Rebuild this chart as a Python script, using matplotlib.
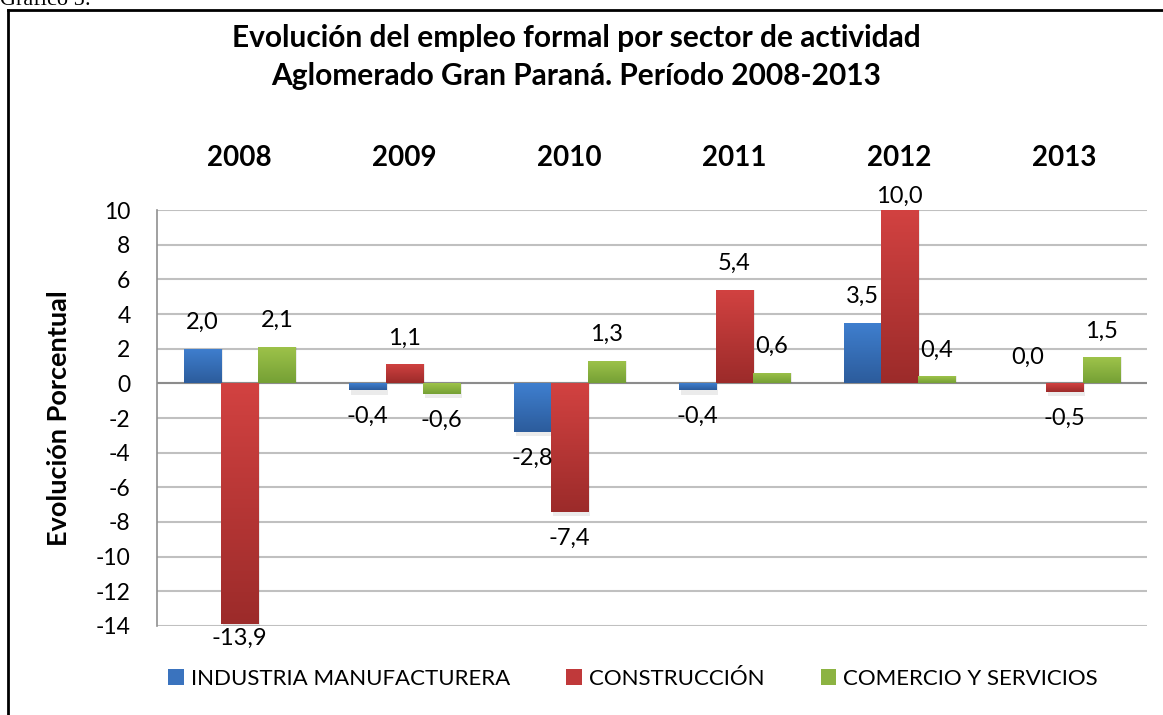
import numpy as np
import matplotlib
matplotlib.use("Agg")
import matplotlib.pyplot as plt
from matplotlib.patches import Patch
from matplotlib.lines import Line2D
from matplotlib.colors import LinearSegmentedColormap

years = ["2008", "2009", "2010", "2011", "2012", "2013"]
series_names = ["INDUSTRIA MANUFACTURERA", "CONSTRUCCIÓN", "COMERCIO Y SERVICIOS"]
industria = [2.0, -0.4, -2.8, -0.4, 3.5, 0.0]
construccion = [-13.9, 1.1, -7.4, 5.4, 10.0, -0.5]
comercio = [2.1, -0.6, 1.3, 0.6, 0.4, 1.5]
yticks = [10, 8, 6, 4, 2, 0, -2, -4, -6, -8, -10, -12, -14]

title = "Evolución del empleo formal por sector de actividad\nAglomerado Gran Paraná. Período 2008-2013"
ylabel = "Evolución Porcentual"

colors_top = ["#3F7FCF", "#D24241", "#9EC34A"]
colors_bot = ["#2C5C9C", "#9C2B2A", "#75A035"]
colors_mid = ["#3A73BE", "#C0393A", "#8CB342"]

plt.rcParams['font.family'] = ['Lato', 'DejaVu Sans']

W, H = 1163, 715
fig = plt.figure(figsize=(W / 100, H / 100), dpi=100)
ax = fig.add_axes([157 / W, 1 - 626 / H, (1147 - 157) / W, (626 - 210) / H])

x = np.arange(len(years))
bw = 0.226
data = [industria, construccion, comercio]
ylim = (-14, 10)
ax.set_xlim(-0.5, len(years) - 0.5)
ax.set_ylim(*ylim)

for i, vals in enumerate(data):
    xs = x + (i - 1) * bw
    bars = ax.bar(xs, vals, width=bw, color=colors_mid[i], zorder=3, linewidth=0)
    cmap = LinearSegmentedColormap.from_list("g%d" % i, [colors_bot[i], colors_top[i]])
    for b, v in zip(bars, vals):
        x0 = b.get_x()
        w = b.get_width()
        y_lo, y_hi = min(0, v), max(0, v)
        if y_hi - y_lo <= 0:
            continue
        grad = np.linspace(0, 1, 128).reshape(-1, 1)
        im = ax.imshow(grad, extent=[x0, x0 + w, y_lo, y_hi], origin='lower',
                       cmap=cmap, aspect='auto', zorder=3.5, interpolation='bilinear')
        im.set_clip_path(b)
        # soft shadow
        ax.bar(x0 + w / 2 + 0.012, v - (0.25 if v < 0 else 0), width=w, bottom=0,
               color="#000000", alpha=0.08, zorder=2.5, linewidth=0)
    for xi, v in zip(xs, vals):
        near = abs(v) >= 0.95 * (ylim[1] if v >= 0 else -ylim[0])
        off = 10 if near else 19
        sign = 1 if v >= 0 else -1
        ax.annotate(f"{v:.1f}".replace(".", ","), (xi, v), xytext=(0, sign * off),
                    textcoords="offset points", ha="center", va="center",
                    fontsize=17, zorder=5)

ax.set_xlim(-0.5, len(years) - 0.5)
ax.set_ylim(*ylim)
ax.set_yticks(yticks)
ax.set_yticklabels([str(t) for t in yticks], fontsize=16.5)
ax.tick_params(axis='y', length=0, pad=19)
ax.set_xticks([])
ax.grid(axis='y', color="#C0C0C0", linewidth=1.5, zorder=0)
ax.set_axisbelow(True)
for s in ["top", "right", "bottom"]:
    ax.spines[s].set_visible(False)
ax.spines["left"].set_color("#909090")
ax.spines["left"].set_linewidth(1.2)
ax.axhline(0, color="#8C8C8C", linewidth=1.5, zorder=2)

for xi, yr in zip(x, years):
    ax.text(xi, 1.125, yr, transform=ax.get_xaxis_transform(), ha="center",
            va="center", fontsize=20, fontweight="bold")

ax.set_ylabel(ylabel, fontsize=19.5, fontweight="bold")
ax.yaxis.set_label_coords(-0.087, 0.5)

fig.text(576 / W, 1 - 57 / H, title, ha="center", va="center", fontsize=21.5,
         fontweight="bold", linespacing=1.45)

handles = [Patch(facecolor=colors_mid[i], edgecolor="none") for i in range(3)]
fig.legend(handles, series_names, loc="center", bbox_to_anchor=(633 / W, 1 - 679 / H),
           ncol=3, frameon=False, fontsize=16, handlelength=0.7, handleheight=0.7,
           handletextpad=0.3, columnspacing=2.55)

# outer frame
fig.add_artist(Line2D([8 / W, 1.0], [1 - 10 / H, 1 - 10 / H], transform=fig.transFigure,
                      color="black", linewidth=2))
fig.add_artist(Line2D([8 / W, 8 / W], [0, 1 - 10 / H], transform=fig.transFigure,
                      color="black", linewidth=2))
fig.text(0.0, 1 - 5 / H, "Gráfico 5:", ha="left", va="baseline", fontsize=16,
         family=["Liberation Serif", "DejaVu Serif"])

fig.savefig("out.png", dpi=100)
